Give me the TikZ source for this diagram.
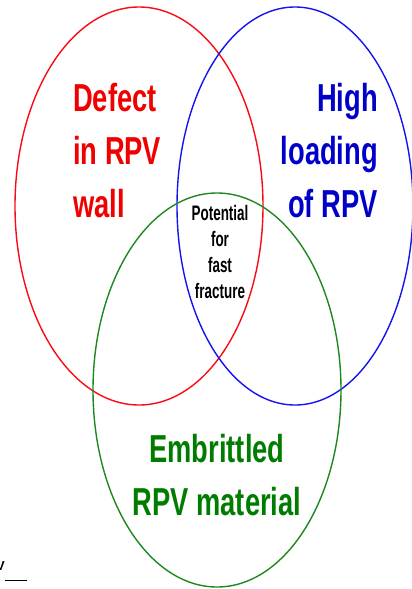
\documentclass[tikz,border=0pt]{standalone}
\usepackage{fontspec}
\usetikzlibrary{shapes.geometric}
\newfontfamily\condfont[FakeStretch=0.70]{Liberation Sans}
\newfontfamily\narrowfont[FakeStretch=0.64]{Liberation Sans}
\definecolor{setred}{RGB}{250,10,20}
\definecolor{setblue}{RGB}{20,20,240}
\definecolor{setgreen}{RGB}{30,135,30}
\definecolor{txtred}{RGB}{240,0,0}
\definecolor{txtblue}{RGB}{0,0,200}
\definecolor{txtgreen}{RGB}{0,125,0}
\begin{document}
\begin{tikzpicture}[x=1pt,y=-1pt,
  setring/.style={ellipse, draw, line width=1.4pt, inner sep=0pt},
  biglabel/.style={inner sep=0pt, font=\condfont\bfseries\fontsize{39}{53}\selectfont},
  smalllabel/.style={inner sep=0pt, align=center, font=\narrowfont\bfseries\fontsize{21}{26}\selectfont}]
\useasboundingbox (0,0) rectangle (412,589);
\clip (0,0) rectangle (412,589);
% the three sets
\node[setring, setred, minimum width=248pt, minimum height=398pt] (defect) at (139,206) {};
\node[setring, setblue, minimum width=236pt, minimum height=398pt] (loading) at (295,206) {};
\node[setring, setgreen, minimum width=248pt, minimum height=394pt] (embrittled) at (217,390) {};
% set labels (base anchor sits on the last line)
\node[biglabel, txtred, align=left, anchor=base west] (defecttxt) at (73,217) {Defect\\in RPV\\wall};
\node[biglabel, txtblue, align=right, anchor=base east] (loadingtxt) at (378,217) {High\\loading\\of RPV};
\node[biglabel, txtgreen, align=center, anchor=base] (embrittledtxt) at (217,515) {Embrittled\\RPV material};
% common intersection
\node[smalllabel, anchor=base] (potential) at (220,298) {Potential\\for\\fast\\fracture};
% stray fragment at the lower left
\node[inner sep=0pt, anchor=base west, font=\fontspec{Liberation Sans}\bfseries\fontsize{13}{13}\selectfont] (frag) at (-4,570) {V\rule[-11pt]{22pt}{1pt}};
\end{tikzpicture}
\end{document}
